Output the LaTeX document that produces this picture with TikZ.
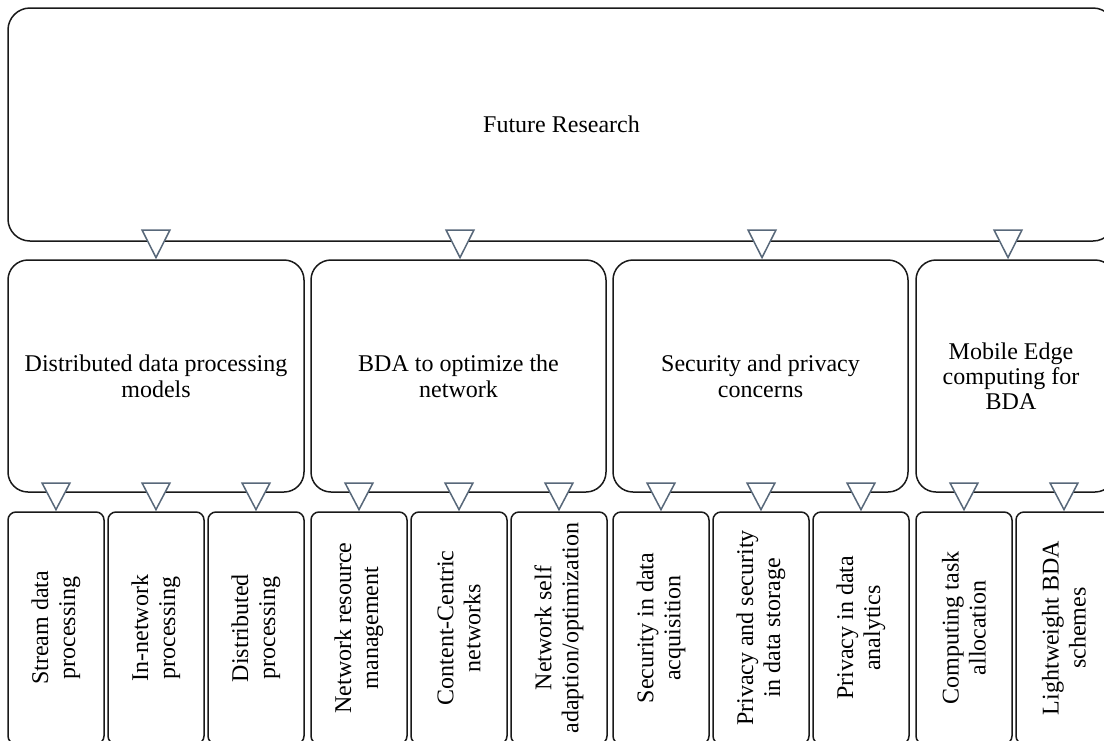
\documentclass[tikz,border=0pt]{standalone}
\usepackage{fontspec}
\setmainfont{Liberation Serif}
\usetikzlibrary{arrows.meta}
\definecolor{tricol}{RGB}{88,104,122}
\definecolor{boxline}{RGB}{25,25,25}
\begin{document}
\begin{tikzpicture}[x=1pt,y=-1pt,
  bigbox/.style={draw=boxline, line width=1.5pt, rounded corners=22pt, inner sep=0pt, align=center,
    font=\fontsize{24}{26}\selectfont},
  midbox/.style={draw=boxline, line width=1.5pt, rounded corners=20pt, inner sep=0pt, align=center,
    minimum height=232pt, font=\fontsize{24}{26}\selectfont},
  leafbox/.style={draw=boxline, line width=1.5pt, rounded corners=8pt, inner sep=0pt,
    minimum width=96pt, minimum height=232pt},
  leaftext/.style={rotate=90, align=center, inner sep=0pt, font=\fontsize{24}{27}\selectfont},
  conntop/.style={draw=tricol, line width=1.5pt, shorten <=-14pt,
    -{Triangle[length=30pt, width=30pt, fill=white]}},
  connbot/.style={draw=tricol, line width=1.5pt, shorten <=-10pt,
    -{Triangle[length=29pt, width=30pt, fill=white]}}
]
\useasboundingbox (0,0) rectangle (1104,740);
\clip (0,0) rectangle (1104,740);
\fill[white] (0,0) rectangle (1104,740);

% top
\node[bigbox, minimum width=1107pt, minimum height=233pt] (top) at (561.5,124.5) {Future Research};

% middle
\node[midbox, minimum width=296pt] (m1) at (156,376) {Distributed data processing\\models};
\node[midbox, minimum width=295pt] (m2) at (458.5,376) {BDA to optimize the\\network};
\node[midbox, minimum width=295pt] (m3) at (760.5,376) {Security and privacy\\concerns};
\node[midbox, minimum width=199pt] (m4) at (1015.5,376) {};
\node[align=center, inner sep=0pt, font=\fontsize{24}{25}\selectfont] (m4t) at (1011,376) {Mobile Edge\\computing for\\BDA};

% leaves
\foreach \n/\cx in {b1/56, b2/156, b3/256, b4/359, b5/459, b6/559, b7/661, b8/761, b9/861, b10/964, b11/1064}{
  \node[leafbox] (\n) at (\cx,628) {};
}
\node[leaftext] at (b1) {Stream data\\processing};
\node[leaftext] at (b2) {In-network\\processing};
\node[leaftext] at (b3) {Distributed\\processing};
\node[leaftext] at (b4) {Network resource\\management};
\node[leaftext] at (b5) {Content-Centric\\networks};
\node[leaftext] at (b6) {Network self\\adaption/optimization};
\node[leaftext] at (b7) {Security in data\\acquisition};
\node[leaftext] at (b8) {Privacy and security\\in data storage};
\node[leaftext] at (b9) {Privacy in data\\analytics};
\node[leaftext] at (b10) {Computing task\\allocation};
\node[leaftext] at (b11) {Lightweight BDA\\schemes};

% connectors top -> middle
\coordinate (x1) at (156,0);
\coordinate (x2) at (460,0);
\coordinate (x3) at (762,0);
\coordinate (x4) at (1008,0);
\draw[conntop] (top.south -| x1) -- (m1.north -| x1);
\draw[conntop] (top.south -| x2) -- (m2.north -| x2);
\draw[conntop] (top.south -| x3) -- (m3.north -| x3);
\draw[conntop] (top.south -| x4) -- (m4.north -| x4);

% connectors middle -> leaves
\foreach \m/\b in {m1/b1, m1/b2, m1/b3, m2/b4, m2/b5, m2/b6, m3/b7, m3/b8, m3/b9, m4/b10, m4/b11}{
  \draw[connbot] (\m.south -| \b.north) -- (\b.north);
}
\end{tikzpicture}
\end{document}
